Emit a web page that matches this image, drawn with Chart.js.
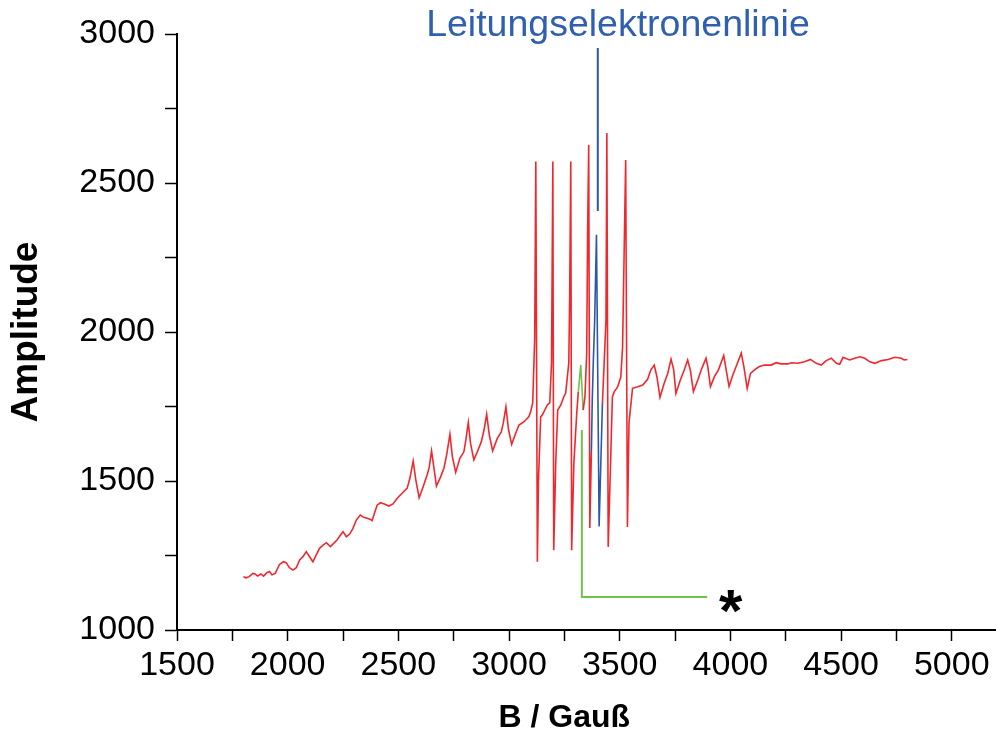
<!DOCTYPE html>
<html><head><meta charset="utf-8">
<script src="https://cdn.jsdelivr.net/npm/chart.js@4.4.1/dist/chart.umd.min.js"></script>
<style>html,body{margin:0;padding:0;background:#fff}canvas{display:block}</style>
</head><body>
<canvas id="c" width="996" height="740"></canvas>
<script>
// Magnetic field B (Gauß) and EPR amplitude
const fieldB = [
  1800,1812,1826,1843,1853,1864,1879,1891,1906,1918,1929,1944,1963,1981,1993,2008,2024,2039,2054,2069,
  2084,2099,2114,2129,2144,2160,2175,2193,2223,2242,2250,2265,2280,2295,2310,2328,2343,2359,2374,2381,
  2392,2404,2419,2437,2457,2476,2495,2517,2540,2552,2567,2579,2594,2612,2630,2639,2650,2660,2672,2691,
  2706,2718,2733,2744,2759,2778,2796,2805,2816,2826,2841,2857,2875,2887,2899,2911,2926,2947,2965,2974,
  2986,2998,3012,3030,3045,3068,3090,3098,3107,3116,
  3121,3128,3133,3143,3151,3173,3184,3192,3198,3202,3211,3220,3234,3247,3256,3270,3274,3279,3283,
  3293,3306,3313,3324,3335,3343,3351,3355,3360,3365,3372,3376,3381,3387,3395,3407,3422,3438,3442,3448,
  3460,3467,3475,3490,3505,3513,3520,3527,3535,3542,
  3558,3581,3604,3626,3641,3656,3668,3682,3701,3717,3732,3744,3754,3774,3792,3807,3819,3833,3853,3871,
  3890,3898,3910,3928,3946,3970,3981,3994,4011,4026,4049,4061,4076,4091,4109,4131,4154,4184,4207,4229,
  4260,4275,4305,4335,4362,4388,4411,4433,4456,4479,4494,4509,4539,4562,4585,4607,4630,4653,4683,4713,
  4743,4773,4785,4800];
const amplitude = [
  1179,1175,1179,1190,1188,1181,1188,1181,1192,1196,1185,1190,1220,1229,1226,1209,1201,1209,1235,1246,
  1263,1246,1229,1252,1274,1285,1293,1280,1302,1322,1330,1313,1322,1341,1369,1386,1378,1375,1371,1367,
  1392,1419,1427,1423,1416,1423,1442,1459,1476,1509,1567,1503,1444,1481,1520,1544,1601,1548,1483,1514,
  1543,1587,1657,1582,1529,1576,1598,1638,1696,1627,1571,1598,1632,1671,1724,1654,1601,1643,1665,1694,
  1749,1671,1623,1660,1688,1699,1716,1733,1762,1980,
  2572,1229,1500,1715,1722,1755,1762,1896,2572,1268,1560,1738,1755,1782,1795,1896,2118,2572,1268,
  1560,1728,1800,1889,1738,1782,1930,2332,2628,1342,1594,1772,1906,2040,2326,1347,1762,2040,2668,1279,
  1594,1782,1799,1815,1849,1950,2265,2577,1346,1695,
  1811,1816,1822,1841,1873,1889,1850,1781,1828,1861,1909,1873,1794,1839,1873,1906,1873,1800,1839,1878,
  1912,1884,1817,1850,1873,1921,1873,1817,1856,1884,1929,1884,1811,1861,1873,1884,1889,1889,1897,1893,
  1893,1897,1895,1900,1908,1895,1889,1904,1912,1895,1892,1915,1906,1912,1917,1912,1900,1895,1904,1908,
  1915,1912,1906,1908];

// highlighted field ranges of the spectrum
const conductionRange = [3372, 3418];   // blue: conduction-electron line
const starRange = [3313, 3335];         // green: feature marked with *

// annotation lines
const labelLineB = [3401, 3401];
const labelLineA = [2953, 2406];
const starLineB = [3329, 3329, 3895];
const starLineA = [1671, 1111, 1111];

// annotation texts
const labelText = 'Leitungselektronenlinie';
const labelB = 3492, labelA = 2993;
const starText = '*';
const starB = 4003, starA = 1096;

// axes
const xTitle = 'B / Gauß';
const yTitle = 'Amplitude';
const xAllTicks = [1500,1750,2000,2250,2500,2750,3000,3250,3500,3750,4000,4250,4500,4750,5000];
const xMajorTicks = [1500,2000,2500,3000,3500,4000,4500,5000];
const yAllTicks = [1000,1250,1500,1750,2000,2250,2500,2750,3000];
const yMajorTicks = [1000,1500,2000,2500,3000];

const RED = '#f0282e', BLUE = '#2d58a8', GREEN = '#72c04c';
const FONT = '"Liberation Sans", Arial, sans-serif';

const toPts = (xs, ys) => xs.map((v, i) => ({x: v, y: ys[i]}));
const inRange = (v, r) => v >= r[0] && v < r[1];

const textPlugin = {
  id: 'annoText',
  afterDraw(chart) {
    const {ctx, scales: {x, y}, chartArea} = chart;
    ctx.save();
    // conduction-electron label
    ctx.font = '37.5px ' + FONT;
    ctx.fillStyle = '#2f5fae';
    ctx.textAlign = 'center';
    ctx.textBaseline = 'alphabetic';
    ctx.fillText(labelText, x.getPixelForValue(labelB), y.getPixelForValue(labelA));
    // star
    ctx.font = 'bold 60px ' + FONT;
    ctx.fillStyle = '#000';
    ctx.textAlign = 'left';
    const m = ctx.measureText(starText);
    const cx = x.getPixelForValue(starB), cy = y.getPixelForValue(starA);
    ctx.fillText(starText,
      cx - (m.actualBoundingBoxRight - m.actualBoundingBoxLeft) / 2,
      cy + (m.actualBoundingBoxAscent - m.actualBoundingBoxDescent) / 2);
    // x-axis title, centred on the labelled tick span
    ctx.font = 'bold 32px ' + FONT;
    ctx.textAlign = 'center';
    ctx.textBaseline = 'middle';
    const tx = (x.getPixelForValue(xMajorTicks[0]) + x.getPixelForValue(xMajorTicks[xMajorTicks.length - 1])) / 2;
    ctx.fillText(xTitle, tx, chartArea.bottom + 88);
    ctx.restore();
  }
};

new Chart(document.getElementById('c'), {
  type: 'line',
  data: {
    datasets: [
      {
        data: toPts(fieldB, amplitude),
        borderColor: RED,
        borderWidth: 1.6,
        pointRadius: 0,
        tension: 0,
        segment: {
          borderColor: ctx => inRange(ctx.p0.parsed.x, conductionRange) ? BLUE
                            : inRange(ctx.p0.parsed.x, starRange) ? GREEN : RED
        }
      },
      { data: toPts(labelLineB, labelLineA), borderColor: BLUE, borderWidth: 2, pointRadius: 0 },
      { data: toPts(starLineB, starLineA), borderColor: GREEN, borderWidth: 2, pointRadius: 0 }
    ]
  },
  options: {
    responsive: false,
    animation: false,
    devicePixelRatio: 1,
    layout: { padding: { top: 34, right: 0, left: 0, bottom: 0 } },
    plugins: { legend: { display: false }, tooltip: { enabled: false } },
    scales: {
      x: {
        type: 'linear',
        min: 1500, max: 5200,
        afterFit: s => { s.height = 110; },
        afterBuildTicks: s => { s.ticks = xAllTicks.map(v => ({value: v})); },
        border: { display: true, color: '#000', width: 2 },
        grid: { drawOnChartArea: false, drawTicks: true, tickLength: 11, tickColor: '#000', tickWidth: 1.5 },
        ticks: {
          autoSkip: false, maxRotation: 0, minRotation: 0,
          color: '#000', padding: 4,
          font: { family: FONT, size: 34 },
          callback: v => xMajorTicks.includes(Math.round(v)) ? String(Math.round(v)) : ''
        },
        title: { display: false }
      },
      y: {
        type: 'linear',
        min: 1000, max: 3000,
        afterFit: s => { s.width = 177; },
        afterBuildTicks: s => { s.ticks = yAllTicks.map(v => ({value: v})); },
        border: { display: true, color: '#000', width: 2 },
        grid: { drawOnChartArea: false, drawTicks: true, tickLength: 12, tickColor: '#000', tickWidth: 1.5 },
        ticks: {
          autoSkip: false,
          color: '#000', padding: 10,
          font: { family: FONT, size: 34 },
          callback: v => yMajorTicks.includes(Math.round(v)) ? String(Math.round(v)) : ''
        },
        title: {
          display: true, text: yTitle, color: '#000',
          font: { family: FONT, size: 37, weight: 'bold', lineHeight: 1.2 },
          padding: { top: 5, bottom: 0 }
        }
      }
    }
  },
  plugins: [textPlugin]
});
</script>
</body></html>
